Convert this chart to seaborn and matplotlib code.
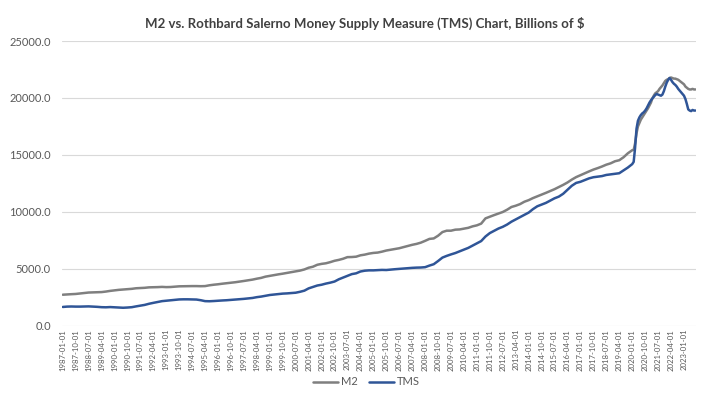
import pandas as pd
import seaborn as sns
import matplotlib.pyplot as plt
from matplotlib.ticker import FuncFormatter

# ======================================
# DATA (billions of $)
# quarterly 1987-01 .. 2019-10, then monthly 2020-01 .. 2023-09
# ======================================
M2_QUARTERLY = [
    2744, 2770, 2790, 2810,   # 1987
    2855, 2900, 2935, 2950,   # 1988
    2965, 2975, 3020, 3080,   # 1989
    3130, 3170, 3200, 3230,   # 1990
    3260, 3310, 3330, 3350,   # 1991
    3390, 3400, 3410, 3430,   # 1992
    3410, 3420, 3450, 3480,   # 1993
    3490, 3500, 3500, 3500,   # 1994
    3490, 3500, 3570, 3620,   # 1995
    3660, 3710, 3750, 3790,   # 1996
    3840, 3890, 3950, 4010,   # 1997
    4070, 4150, 4220, 4330,   # 1998
    4400, 4470, 4530, 4590,   # 1999
    4660, 4730, 4800, 4860,   # 2000
    4960, 5110, 5200, 5370,   # 2001
    5450, 5500, 5600, 5720,   # 2002
    5800, 5900, 6040, 6050,   # 2003
    6080, 6200, 6260, 6350,   # 2004
    6410, 6440, 6520, 6620,   # 2005
    6690, 6750, 6820, 6920,   # 2006
    7030, 7120, 7200, 7310,   # 2007
    7470, 7640, 7680, 7920,   # 2008
    8240, 8360, 8360, 8450,   # 2009
    8470, 8540, 8610, 8740,   # 2010
    8830, 8980, 9440, 9590,   # 2011
    9730, 9860, 10000, 10200,  # 2012
    10440, 10550, 10690, 10900,  # 2013
    11040, 11220, 11370, 11530,  # 2014
    11680, 11840, 12000, 12190,  # 2015
    12380, 12590, 12840, 13060,  # 2016
    13230, 13400, 13560, 13720,  # 2017
    13850, 13990, 14150, 14270,  # 2018
    14450, 14540, 14800, 15150,  # 2019
]
M2_MONTHLY = [
    15420, 15450, 16000, 16900, 17500, 17800, 18100, 18300, 18500, 18700, 18900, 19100,  # 2020
    19350, 19600, 19950, 20200, 20400, 20500, 20600, 20800, 20950, 21100, 21300, 21500,  # 2021
    21600, 21650, 21750, 21800, 21750, 21700, 21700, 21650, 21600, 21500, 21400, 21300,  # 2022
    21200, 21000, 20900, 20800, 20750, 20750, 20800, 20750, 20750,                       # 2023
]

TMS_QUARTERLY = [
    1670, 1700, 1710, 1700,   # 1987
    1700, 1710, 1720, 1700,   # 1988
    1680, 1650, 1640, 1660,   # 1989
    1640, 1620, 1600, 1620,   # 1990
    1650, 1720, 1780, 1850,   # 1991
    1950, 2030, 2100, 2180,   # 1992
    2220, 2260, 2300, 2330,   # 1993
    2340, 2340, 2330, 2320,   # 1994
    2260, 2180, 2170, 2190,   # 1995
    2220, 2240, 2260, 2290,   # 1996
    2320, 2350, 2380, 2420,   # 1997
    2460, 2530, 2580, 2650,   # 1998
    2720, 2760, 2800, 2840,   # 1999
    2860, 2890, 2920, 3000,   # 2000
    3100, 3300, 3420, 3550,   # 2001
    3620, 3720, 3800, 3900,   # 2002
    4100, 4250, 4400, 4550,   # 2003
    4620, 4780, 4850, 4880,   # 2004
    4880, 4900, 4920, 4910,   # 2005
    4950, 4980, 5010, 5040,   # 2006
    5080, 5100, 5120, 5130,   # 2007
    5160, 5300, 5420, 5700,   # 2008
    6000, 6150, 6280, 6400,   # 2009
    6550, 6700, 6850, 7050,   # 2010
    7250, 7450, 7850, 8150,   # 2011
    8350, 8550, 8700, 8900,   # 2012
    9150, 9350, 9550, 9750,   # 2013
    9950, 10250, 10500, 10650,  # 2014
    10800, 11000, 11200, 11350,  # 2015
    11600, 11950, 12300, 12550,  # 2016
    12650, 12800, 12950, 13050,  # 2017
    13100, 13150, 13250, 13300,  # 2018
    13350, 13400, 13650, 13900,  # 2019
]
TMS_MONTHLY = [
    14200, 14400, 15600, 17300, 18000, 18300, 18500, 18650, 18750, 18900, 19100, 19350,  # 2020
    19600, 19800, 19950, 20100, 20250, 20350, 20300, 20250, 20200, 20300, 20600, 21000,  # 2021
    21350, 21600, 21750, 21600, 21400, 21250, 21150, 21000, 20800, 20650, 20500, 20350,  # 2022
    20200, 19900, 19500, 19000, 18900, 18850, 18950, 18900, 18900,                       # 2023
]

DATES = list(pd.date_range("1987-01-01", "2019-10-01", freq="QS")) + \
        list(pd.date_range("2020-01-01", "2023-09-01", freq="MS"))
TICK_DATES = pd.date_range("1987-01-01", "2023-01-01", freq="9MS")

TITLE = "M2 vs. Rothbard Salerno Money Supply Measure (TMS) Chart, Billions of $"
COLORS = {"M2": "#7F7F7F", "TMS": "#2F5597"}

# ======================================
# BUILD TABLE
# ======================================
df = pd.concat([
    pd.DataFrame({"date": DATES, "value": M2_QUARTERLY + M2_MONTHLY, "series": "M2"}),
    pd.DataFrame({"date": DATES, "value": TMS_QUARTERLY + TMS_MONTHLY, "series": "TMS"}),
])

# ======================================
# PLOT
# ======================================
sns.set_theme(style="white")
plt.rcParams["font.family"] = ["Lato", "DejaVu Sans"]

fig = plt.figure(figsize=(7.19, 3.95), dpi=100)
ax = fig.add_axes([0.0862, 0.1747, 0.882, 0.7215])

sns.lineplot(data=df, x="date", y="value", hue="series", palette=COLORS,
             linewidth=1.8, ax=ax, legend=False)

ax.set_xlim(pd.Timestamp("1986-12-15"), pd.Timestamp("2023-09-15"))
ax.set_ylim(0, 25000)
ax.set_yticks(range(0, 25001, 5000))
ax.yaxis.set_major_formatter(FuncFormatter(lambda v, _: f"{v:.1f}"))
ax.set_xticks(TICK_DATES)
ax.set_xticklabels([d.strftime("%Y-%m-%d") for d in TICK_DATES], rotation=90)
ax.tick_params(axis="x", labelsize=5.6, colors="#595959", length=0, pad=2)
ax.tick_params(axis="y", labelsize=8, colors="#595959", length=0, pad=8)
ax.grid(axis="y", color="#D9D9D9", linewidth=0.8)
ax.grid(axis="x", visible=False)
for s in ax.spines.values():
    s.set_visible(False)
ax.set_xlabel("")
ax.set_ylabel("")

fig.suptitle(TITLE, x=0.507, y=0.957, fontsize=9.5, fontweight="bold", color="#404040")

handles = [plt.Line2D([], [], color=COLORS[k], linewidth=1.8) for k in COLORS]
fig.legend(handles, list(COLORS), loc="center", bbox_to_anchor=(0.51, 0.033), ncol=2,
           frameon=False, fontsize=8, handlelength=2.2, columnspacing=1.0,
           handletextpad=0.3, labelcolor="#595959")

fig.savefig("out.png", dpi=100)
plt.close(fig)
